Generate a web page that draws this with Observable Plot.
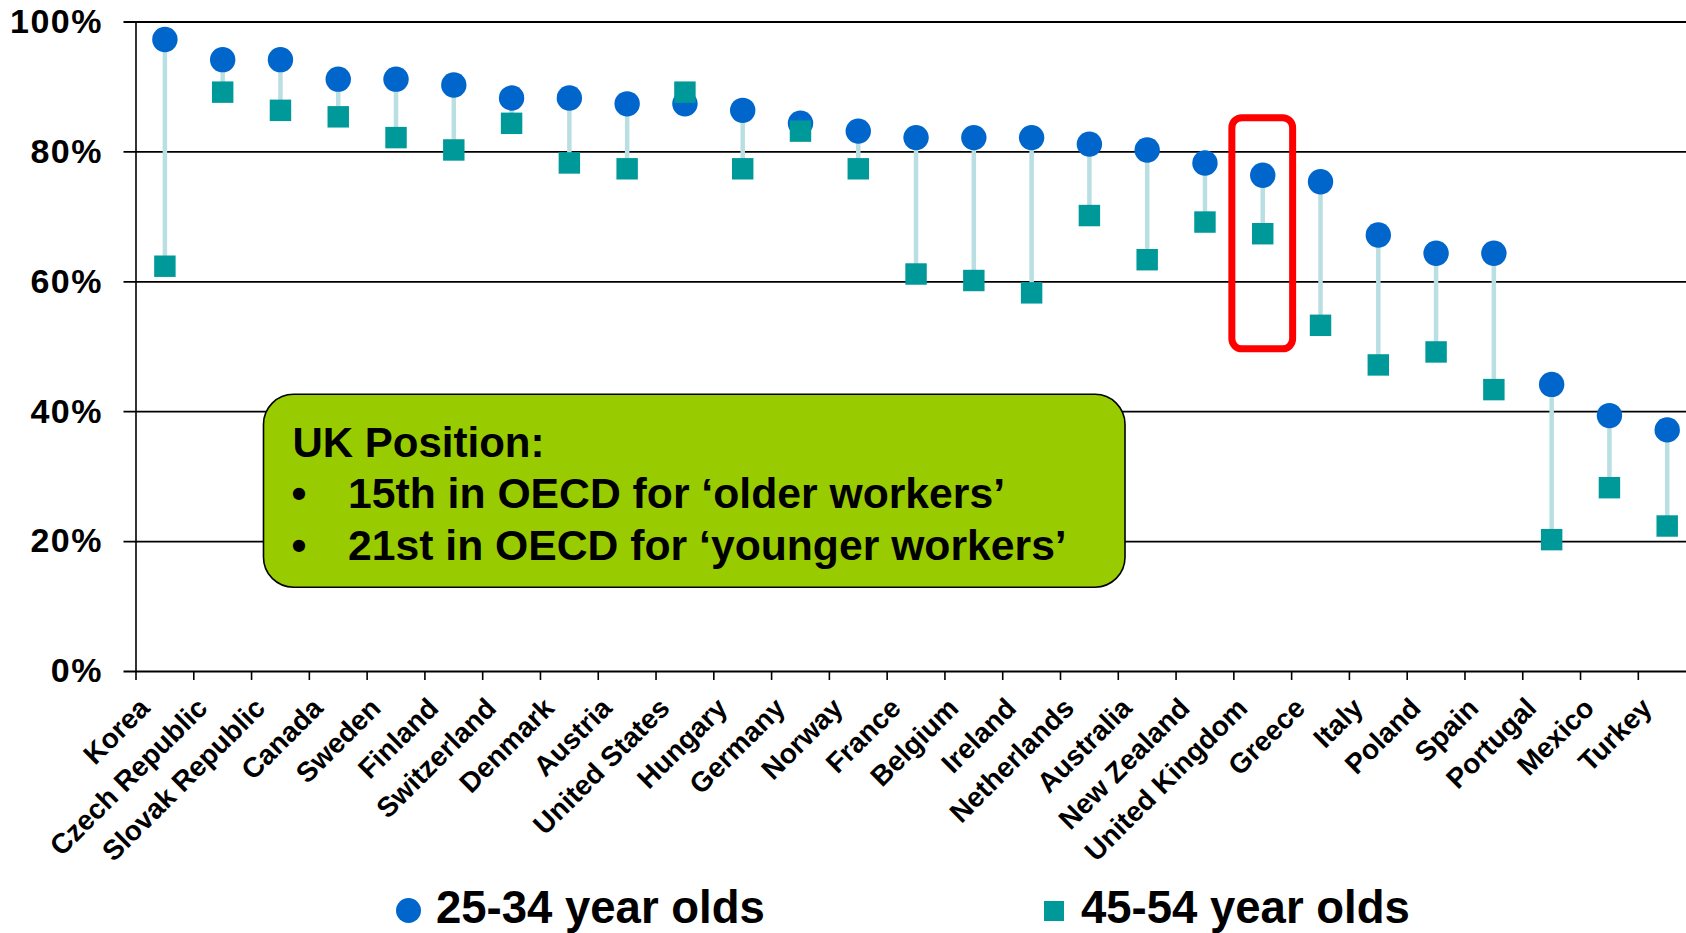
<!DOCTYPE html>
<html>
<head>
<meta charset="utf-8">
<script src="https://cdn.jsdelivr.net/npm/d3@7"></script>
<script src="https://cdn.jsdelivr.net/npm/@observablehq/plot@0.6"></script>
<style>
  html, body { margin: 0; padding: 0; overflow: hidden; background: #fff; }
  #wrap { position: relative; width: 1686px; height: 933px; overflow: hidden; font-family: "Liberation Sans", Arial, sans-serif; }
  #chart svg { display: block; }
  #chart g[aria-label="y-axis tick label"] text { letter-spacing: 1.5px; }
  #legend { position: absolute; left: 0; top: 883px; width: 1686px; height: 60px; font-weight: bold; font-size: 45.5px; line-height: 50px; color: #000; }
  #legend .item { position: absolute; top: 0; white-space: nowrap; }
  #legend .mk { position: absolute; }
</style>
</head>
<body>
<div id="wrap">
  <div id="chart"></div>
  <div id="legend"></div>
</div>
<script>
// ---- Data ----
const countries = [
  "Korea", "Czech Republic", "Slovak Republic", "Canada", "Sweden", "Finland",
  "Switzerland", "Denmark", "Austria", "United States", "Hungary", "Germany",
  "Norway", "France", "Belgium", "Ireland", "Netherlands", "Australia",
  "New Zealand", "United Kingdom", "Greece", "Italy", "Poland", "Spain",
  "Portugal", "Mexico", "Turkey"
];
// 25-34 year olds (%)
const young = [
  97.3, 94.2, 94.2, 91.2, 91.2, 90.3,
  88.3, 88.3, 87.4, 87.4, 86.4, 84.4,
  83.2, 82.2, 82.2, 82.2, 81.2, 80.3,
  78.3, 76.4, 75.4, 67.2, 64.4, 64.4,
  44.2, 39.4, 37.2
];
// 45-54 year olds (%)
const older = [
  62.4, 89.2, 86.4, 85.4, 82.2, 80.3,
  84.4, 78.3, 77.4, 89.2, 77.4, 83.2,
  77.4, 61.2, 60.2, 58.3, 70.2, 63.4,
  69.2, 67.4, 53.3, 47.2, 49.2, 43.4,
  20.3, 28.3, 22.4
];
const yTicks = [0, 20, 40, 60, 80, 100];
const seriesNames = ["25-34 year olds", "45-54 year olds"];
const seriesColors = ["#0066CC", "#009999"];
const stemColor = "#B9DFE3";

// Highlight box around the UK (value range in %)
const highlightCountry = ["United Kingdom"];
const highlightRange = [49.6, 85.2];

// Annotation box
const noteLines = ["UK Position:", "15th in OECD for \u2018older workers\u2019", "21st in OECD for \u2018younger workers\u2019"];
const noteBullets = ["", "\u2022", "\u2022"];
const noteFrom = ["Slovak Republic", 0.215];
const noteTo = ["Australia", 0.125];
const noteRange = [12.9, 42.6];

// ---- Table for Plot ----
const data = countries.map((c, i) => ({country: c, young: young[i], old: older[i]}));
const hiData = highlightCountry.map(c => ({country: c, lo: highlightRange[0], hi: highlightRange[1]}));

const width = 1686, height = 886;
const marginLeft = 135.5, marginRight = -9.6, marginTop = 21.5, marginBottom = 215;
const step = (width - marginLeft - marginRight) / countries.length;

function noteMark(index, scales, values, dims) {
  let x = scales && scales.x, y = scales && scales.y;
  if (!x || !x.bandwidth) {
    x = d3.scaleBand(countries, [marginLeft, width - marginRight]).padding(0);
  }
  if (!y) {
    y = d3.scaleLinear([0, 100], [height - marginBottom, marginTop]);
  }
  const bw = x.bandwidth();
  const x0 = x(noteFrom[0]) + noteFrom[1] * bw;
  const x1 = x(noteTo[0]) + noteTo[1] * bw;
  const y0 = y(noteRange[1]), y1 = y(noteRange[0]);
  const g = d3.create("svg:g").attr("text-anchor", "start");
  g.append("rect")
    .attr("x", x0).attr("y", y0)
    .attr("width", x1 - x0).attr("height", y1 - y0)
    .attr("rx", 30).attr("ry", 30)
    .attr("fill", "#99CC00").attr("stroke", "#000").attr("stroke-width", 1.6);
  const baselines = [62.4, 114, 165.4];
  const sizes = [42, 42.7, 42.7];
  noteLines.forEach((t, i) => {
    if (noteBullets[i]) {
      g.append("text").attr("x", x0 + 28).attr("y", y0 + baselines[i])
        .attr("text-anchor", "start")
        .attr("font-size", sizes[i]).attr("font-weight", "bold").attr("fill", "#000")
        .attr("font-family", '"Liberation Sans", Arial, sans-serif')
        .text(noteBullets[i]);
    }
    g.append("text").attr("x", x0 + (noteBullets[i] ? 84.5 : 29)).attr("y", y0 + baselines[i])
      .attr("text-anchor", "start")
      .attr("font-size", sizes[i]).attr("font-weight", "bold").attr("fill", "#000")
      .attr("font-family", '"Liberation Sans", Arial, sans-serif')
      .text(t);
  });
  return g.node();
}

const chart = Plot.plot({
  width, height, marginLeft, marginRight, marginTop, marginBottom,
  style: {fontFamily: '"Liberation Sans", Arial, sans-serif', color: "#000", background: "#fff", overflow: "hidden"},
  x: {type: "band", domain: countries, padding: 0, round: false, label: null},
  y: {domain: [0, 100], label: null},
  marks: [
    // gridlines (incl. 0% baseline), extending left to the tick length
    Plot.ruleY(yTicks, {stroke: "#000", strokeWidth: 1.8, insetLeft: -12}),
    // y axis line (extends below baseline like a tick)
    Plot.ruleX([countries[0]], {x: d => d, y1: 100, y2: 0, dx: -step / 2, stroke: "#000", strokeWidth: 1.6, insetBottom: -9}),
    // x tick marks at category boundaries
    Plot.ruleX(countries, {x: d => d, y1: 0, y2: 0, dx: step / 2, stroke: "#000", strokeWidth: 1.6, insetBottom: -9}),
    Plot.axisY({ticks: yTicks, tickSize: 0, tickPadding: 33, tickFormat: d => d + "%", fontSize: 34, fontWeight: "bold", label: null}),
    Plot.axisX({tickSize: 0, tickPadding: 0, tickRotate: -45, dx: -20, dy: 32, fontSize: 28, fontWeight: "bold", label: null}),
    // stems
    Plot.ruleX(data, {x: "country", y1: "young", y2: "old", stroke: stemColor, strokeWidth: 4.5}),
    // 25-34
    Plot.dot(data, {x: "country", y: "young", r: 12.7, fill: seriesColors[0], symbol: "circle"}),
    // 45-54
    Plot.dot(data, {x: "country", y: "old", r: 12.1, fill: seriesColors[1], symbol: "square"}),
    // UK highlight
    Plot.barY(hiData, {x: "country", y1: "lo", y2: "hi", fill: "none", stroke: "#FF0000", strokeWidth: 7, rx: 10, insetLeft: -1.5, insetRight: -1.5}),
    // annotation
    noteMark
  ]
});
document.getElementById("chart").appendChild(chart);

// ---- Legend (HTML, below the SVG) ----
const legend = d3.select("#legend");
const legendPos = [{mk: 395.5, mkTop: 14.5, size: 25, round: true, text: 436},
                   {mk: 1044.3, mkTop: 18.3, size: 19.5, round: false, text: 1081}];
seriesNames.forEach((name, i) => {
  const p = legendPos[i];
  legend.append("span").attr("class", "mk")
    .style("left", p.mk + "px").style("top", p.mkTop + "px")
    .style("width", p.size + "px").style("height", p.size + "px")
    .style("border-radius", p.round ? "50%" : "0")
    .style("background", seriesColors[i]);
  legend.append("span").attr("class", "item")
    .style("left", p.text + "px")
    .text(name);
});
</script>
</body>
</html>
